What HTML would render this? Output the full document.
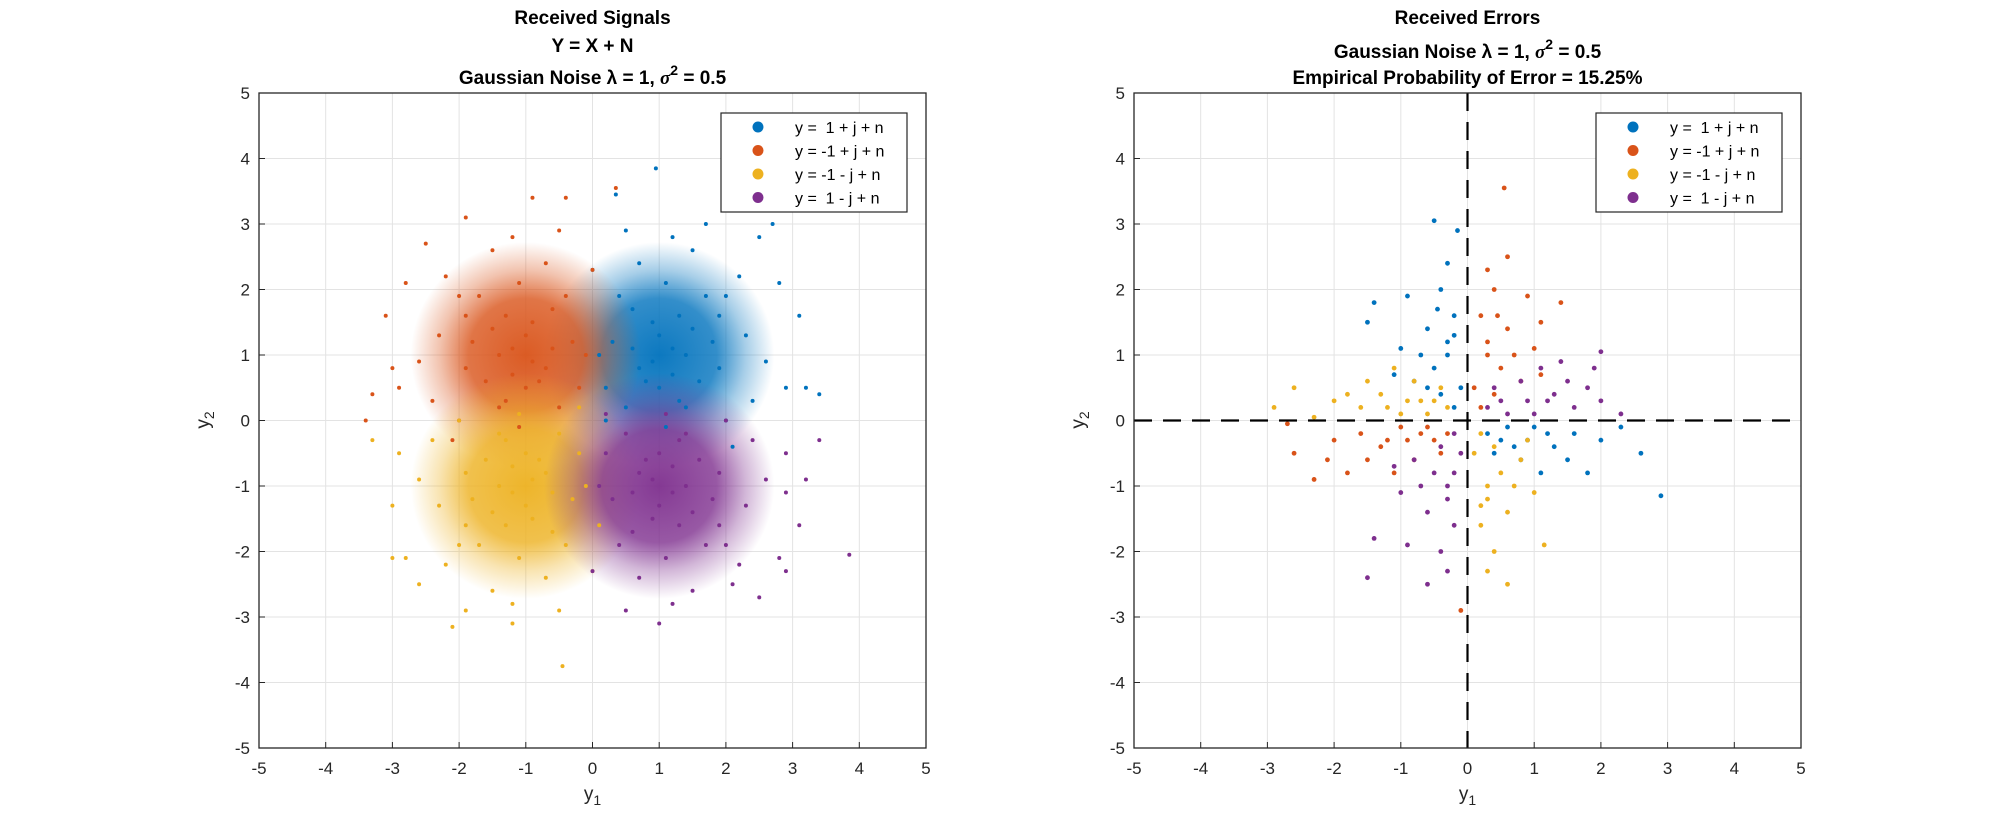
<!DOCTYPE html>
<html><head><meta charset="utf-8"><style>
html,body{margin:0;padding:0;background:#fff;}
svg{display:block;font-family:"Liberation Sans",Arial,sans-serif;}
</style></head><body>
<svg id="fig" width="1990" height="840" viewBox="0 0 1990 840"></svg>
<script>
const categories = ["y =  1 + j + n","y = -1 + j + n","y = -1 - j + n","y =  1 - j + n"];
const colors = ["#0072BD","#D95319","#EDB120","#7E2F8E"];
const ticks = [-5,-4,-3,-2,-1,0,1,2,3,4,5];
const tickLabels = ["-5","-4","-3","-2","-1","0","1","2","3","4","5"];
// cluster centres/spreads for density shading (data units)
const centers = [[1,1],[-1,1],[-1,-1],[1,-1]];
const spread = [0.75,0.75,0.75,0.75];
// received signal samples
const sigBlue = [[1.2,1.1],[0.8,0.6],[1.5,1.4],[0.3,1.2],[1.9,0.8],[1.1,2.1],[0.6,1.7],[2.3,1.3],[1.4,0.2],[0.9,0.9],[1.7,1.9],[0.2,0.5],[1.3,1.6],[2.0,1.9],[0.5,0.2],[1.0,1.3],[1.6,0.6],[0.7,2.4],[2.6,0.9],[1.2,0.7],[0.4,1.9],[1.8,1.2],[1.1,-0.1],[2.2,2.2],[0.1,1.0],[1.5,2.6],[0.9,1.5],[2.9,0.5],[1.3,0.3],[0.6,1.1],[3.4,0.4],[2.5,2.8],[0.35,3.45],[0.95,3.85],[1.7,3.0],[2.0,0.0],[1.0,0.5],[1.4,1.0],[0.7,0.8],[1.9,1.6],[2.8,2.1],[3.1,1.6],[2.4,0.3],[0.0,2.3],[0.5,2.9],[1.2,2.8],[2.7,3.0],[3.2,0.5],[2.1,-0.4],[0.2,0.0]];
const sigOrange = [[-1.2,1.1],[-0.8,0.6],[-1.5,1.4],[-0.3,1.2],[-1.9,0.8],[-1.1,2.1],[-0.6,1.7],[-2.3,1.3],[-1.4,0.2],[-0.9,0.9],[-1.7,1.9],[-0.2,0.5],[-1.3,1.6],[-2.0,1.9],[-0.5,0.2],[-1.0,1.3],[-1.6,0.6],[-0.7,2.4],[-2.6,0.9],[-1.2,0.7],[-0.4,1.9],[-1.8,1.2],[-1.1,-0.1],[-2.2,2.2],[-0.1,1.0],[-1.5,2.6],[-0.9,1.5],[-2.9,0.5],[-1.3,0.3],[-0.6,1.1],[-3.3,0.4],[-2.5,2.7],[-0.9,3.4],[0.35,3.55],[-1.9,3.1],[-2.0,0.0],[-1.0,0.5],[-1.4,1.0],[-0.7,0.8],[-1.9,1.6],[-2.8,2.1],[-3.1,1.6],[-2.4,0.3],[0.0,2.3],[-0.5,2.9],[-1.2,2.8],[-3.0,0.8],[-3.4,0.0],[-0.4,3.4],[-2.1,-0.3]];
const sigYellow = [[-1.2,-1.1],[-0.8,-0.6],[-1.5,-1.4],[-0.3,-1.2],[-1.9,-0.8],[-1.1,-2.1],[-0.6,-1.7],[-2.3,-1.3],[-1.4,-0.2],[-0.9,-0.9],[-1.7,-1.9],[-0.2,-0.5],[-1.3,-1.6],[-2.0,-1.9],[-0.5,-0.2],[-1.0,-1.3],[-1.6,-0.6],[-0.7,-2.4],[-2.6,-0.9],[-1.2,-0.7],[-0.4,-1.9],[-1.8,-1.2],[-1.1,0.1],[-2.2,-2.2],[-0.1,-1.0],[-1.5,-2.6],[-0.9,-1.5],[-2.9,-0.5],[-1.3,-0.3],[-0.6,-1.1],[-3.3,-0.3],[-2.1,-3.15],[-1.2,-3.1],[-0.45,-3.75],[-1.9,-2.9],[-2.0,0.0],[-1.0,-0.5],[-1.4,-1.0],[-0.7,-0.8],[-1.9,-1.6],[-2.8,-2.1],[-3.0,-1.3],[-2.4,-0.3],[0.0,-2.3],[-0.5,-2.9],[-1.2,-2.8],[-3.0,-2.1],[0.1,-1.6],[-2.6,-2.5],[-0.2,0.2]];
const sigPurple = [[1.2,-1.1],[0.8,-0.6],[1.5,-1.4],[0.3,-1.2],[1.9,-0.8],[1.1,-2.1],[0.6,-1.7],[2.3,-1.3],[1.4,-0.2],[0.9,-0.9],[1.7,-1.9],[0.2,-0.5],[1.3,-1.6],[2.0,-1.9],[0.5,-0.2],[1.0,-1.3],[1.6,-0.6],[0.7,-2.4],[2.6,-0.9],[1.2,-0.7],[0.4,-1.9],[1.8,-1.2],[1.1,0.1],[2.2,-2.2],[0.1,-1.0],[1.5,-2.6],[0.9,-1.5],[2.9,-0.5],[1.3,-0.3],[0.6,-1.1],[3.4,-0.3],[2.5,-2.7],[1.0,-3.1],[3.85,-2.05],[2.9,-2.3],[2.0,0.0],[1.0,-0.5],[1.4,-1.0],[0.7,-0.8],[1.9,-1.6],[2.8,-2.1],[3.1,-1.6],[2.4,-0.3],[0.0,-2.3],[0.5,-2.9],[1.2,-2.8],[2.9,-1.1],[3.2,-0.9],[2.1,-2.5],[0.2,0.1]];
// error samples (estimated)
const errBlue = [[-0.3,1.2],[-0.5,0.8],[-0.2,1.6],[-0.7,1.0],[-0.4,2.0],[-0.1,0.5],[-0.6,1.4],[-1.0,1.1],[-0.3,2.4],[-0.5,3.05],[-0.2,0.2],[-0.8,0.6],[-1.4,1.8],[-1.5,1.5],[-0.9,1.9],[-0.15,2.9],[-0.4,0.4],[-1.1,0.7],[0.5,-0.3],[1.0,-0.1],[1.3,-0.4],[0.8,-0.6],[1.6,-0.2],[2.0,-0.3],[0.3,-0.2],[1.1,-0.8],[2.6,-0.5],[2.9,-1.15],[1.5,-0.6],[0.6,-0.1],[2.3,-0.1],[0.9,-0.3],[1.8,-0.8],[0.4,-0.5],[-0.3,1.0],[-0.6,0.5],[-0.2,1.3],[-0.45,1.7],[1.2,-0.2],[0.7,-0.4]];
const errOrange = [[0.3,1.2],[0.5,0.8],[0.2,1.6],[0.7,1.0],[0.4,2.0],[0.1,0.5],[0.6,1.4],[1.0,1.1],[0.3,2.3],[0.6,2.5],[0.2,0.2],[0.8,0.6],[1.4,1.8],[1.1,1.5],[0.9,1.9],[0.55,3.55],[0.4,0.4],[1.1,0.7],[-0.5,-0.3],[-1.0,-0.1],[-1.3,-0.4],[-0.8,-0.6],[-1.6,-0.2],[-2.0,-0.3],[-0.3,-0.2],[-1.1,-0.8],[-2.6,-0.5],[-2.7,-0.05],[-1.5,-0.6],[-0.6,-0.1],[-2.3,-0.9],[-0.9,-0.3],[-1.8,-0.8],[-0.4,-0.5],[-0.1,-2.9],[-2.1,-0.6],[0.3,1.0],[0.45,1.6],[-1.2,-0.3],[-0.7,-0.2]];
const errYellow = [[0.3,-1.2],[0.5,-0.8],[0.2,-1.6],[0.7,-1.0],[0.4,-2.0],[0.1,-0.5],[0.6,-1.4],[1.0,-1.1],[0.3,-2.3],[0.6,-2.5],[0.2,-0.2],[0.8,-0.6],[1.15,-1.9],[0.9,-0.3],[0.4,-0.4],[-0.5,0.3],[-1.0,0.1],[-1.3,0.4],[-0.8,0.6],[-1.6,0.2],[-2.0,0.3],[-0.3,0.2],[-1.1,0.8],[-2.6,0.5],[-2.9,0.2],[-1.5,0.6],[-0.6,0.1],[-2.3,0.05],[-0.9,0.3],[-1.8,0.4],[-0.4,0.5],[-1.2,0.2],[0.3,-1.0],[0.2,-1.3],[-0.7,0.3]];
const errPurple = [[-0.3,-1.2],[-0.5,-0.8],[-0.2,-1.6],[-0.7,-1.0],[-0.4,-2.0],[-0.1,-0.5],[-0.6,-1.4],[-1.0,-1.1],[-0.3,-2.3],[-0.6,-2.5],[-0.2,-0.2],[-0.8,-0.6],[-1.4,-1.8],[-1.5,-2.4],[-0.9,-1.9],[-0.4,-0.4],[-1.1,-0.7],[0.5,0.3],[1.0,0.1],[1.3,0.4],[0.8,0.6],[1.6,0.2],[2.0,0.3],[0.3,0.2],[1.1,0.8],[2.0,1.05],[1.5,0.6],[0.6,0.1],[1.9,0.8],[0.9,0.3],[1.8,0.5],[0.4,0.5],[1.4,0.9],[2.3,0.1],[-0.3,-1.0],[-0.2,-0.8],[1.2,0.3]];

const NS="http://www.w3.org/2000/svg";
const svg=document.getElementById('fig');
function mk(tag,attrs,parent){const e=document.createElementNS(NS,tag);for(const k in attrs)e.setAttribute(k,attrs[k]);(parent||svg).appendChild(e);return e;}
const defs=mk('defs',{});
colors.forEach((c,i)=>{const g=mk('radialGradient',{id:'g'+i},defs);mk('stop',{offset:'0','stop-color':c,'stop-opacity':'0.95'},g);mk('stop',{offset:'0.5','stop-color':c,'stop-opacity':'0.8'},g);mk('stop',{offset:'0.75','stop-color':c,'stop-opacity':'0.35'},g);mk('stop',{offset:'1','stop-color':c,'stop-opacity':'0'},g);});

function makeAxes(x0,name,sets,blobScale,titleLines,dashed,dotR){
  const x1=x0+667,yT=93,yB=748;
  const sx=v=>x0+(v+5)/10*(x1-x0);
  const sy=v=>yB-(v+5)/10*(yB-yT);
  const g=mk('g',{});
  
  
  ticks.forEach((t,i)=>{
    mk('line',{x1:sx(t),x2:sx(t),y1:yT,y2:yB,stroke:'#e3e3e3','stroke-width':1},g);
    mk('line',{x1:x0,x2:x1,y1:sy(t),y2:sy(t),stroke:'#e3e3e3','stroke-width':1},g);
    const xl=mk('text',{x:sx(t),y:yB+26,'text-anchor':'middle','font-size':17,fill:'#262626'},g);xl.textContent=tickLabels[i];
    
    
    const yl=mk('text',{x:x0-9,y:sy(t)+6,'text-anchor':'end','font-size':17,fill:'#262626'},g);yl.textContent=tickLabels[i];
    
    
    mk('line',{x1:sx(t),x2:sx(t),y1:yB,y2:yB-6,stroke:'#262626'},g);
    mk('line',{x1:x0,x2:x0+6,y1:sy(t),y2:sy(t),stroke:'#262626'},g);
  });
  if(blobScale>0){centers.forEach((c,i)=>{
    const b=mk('ellipse',{cx:sx(c[0]),cy:sy(c[1]),rx:spread[i]*blobScale*66.7,ry:spread[i]*blobScale*65.5,fill:'url(#g'+i+')'},g);
    
    
  });}
  sets.forEach((pts,i)=>{pts.forEach(p=>{
    const d=mk('circle',{cx:sx(p[0]),cy:sy(p[1]),r:dotR,fill:colors[i]},g);
    
    
  });});
  if(dashed){
    mk('line',{x1:sx(0),x2:sx(0),y1:yT,y2:yB,stroke:'#000','stroke-width':2.2,'stroke-dasharray':'18 11'},g);
    mk('line',{x1:x0,x2:x1,y1:sy(0),y2:sy(0),stroke:'#000','stroke-width':2.2,'stroke-dasharray':'18 11'},g);
  }
  mk('rect',{x:x0,y:yT,width:x1-x0,height:yB-yT,fill:'none',stroke:'#262626','stroke-width':1.3},g);
  const cx=(x0+x1)/2;
  titleLines.forEach(([txt,y,sup])=>{
    const t=mk('text',{x:cx,y:y,'text-anchor':'middle','font-size':19,'font-weight':'bold',fill:'#000'},g);
    
    
    if(sup){t.innerHTML=txt+'<tspan font-style="italic" font-family="Liberation Serif">σ</tspan><tspan dy="-9" font-size="14">2</tspan><tspan dy="9"> = 0.5</tspan>';}
    else t.textContent=txt;
  });
  const xt=mk('text',{x:cx,y:800,'text-anchor':'middle','font-size':19,fill:'#262626'},g);
  xt.innerHTML='y<tspan dy="5" font-size="14">1</tspan>';
  
  
  const yt=mk('text',{x:0,y:0,'text-anchor':'middle','font-size':19,fill:'#262626',transform:`translate(${x0-50},420) rotate(-90)`},g);
  yt.innerHTML='y<tspan dy="5" font-size="14">2</tspan>';
  
  
  const lx=x0+462,ly=113;
  const lg=mk('g',{},g);
  
  
  mk('rect',{x:lx,y:ly,width:186,height:99,fill:'#fff',stroke:'#262626','stroke-width':1.2},lg);
  categories.forEach((c,i)=>{
    const yy=ly+14+i*23.5;
    mk('circle',{cx:lx+37,cy:yy,r:5.5,fill:colors[i]},lg);
    const t=mk('text',{x:lx+74,y:yy+6,'font-size':16,fill:'#000'},lg);
    
    
    t.style.whiteSpace='pre';
    t.textContent=c;
  });
}
makeAxes(259,'signals-axes',[sigBlue,sigOrange,sigYellow,sigPurple],2.3,
  [['Received Signals',24],['Y = X + N',52],['Gaussian Noise λ = 1, ',84,true]],false,2);
makeAxes(1134,'errors-axes',[errBlue,errOrange,errYellow,errPurple],0,
  [['Received Errors',24],['Gaussian Noise λ = 1, ',58,true],['Empirical Probability of Error = 15.25%',84]],true,2.4);
</script>
</body></html>
